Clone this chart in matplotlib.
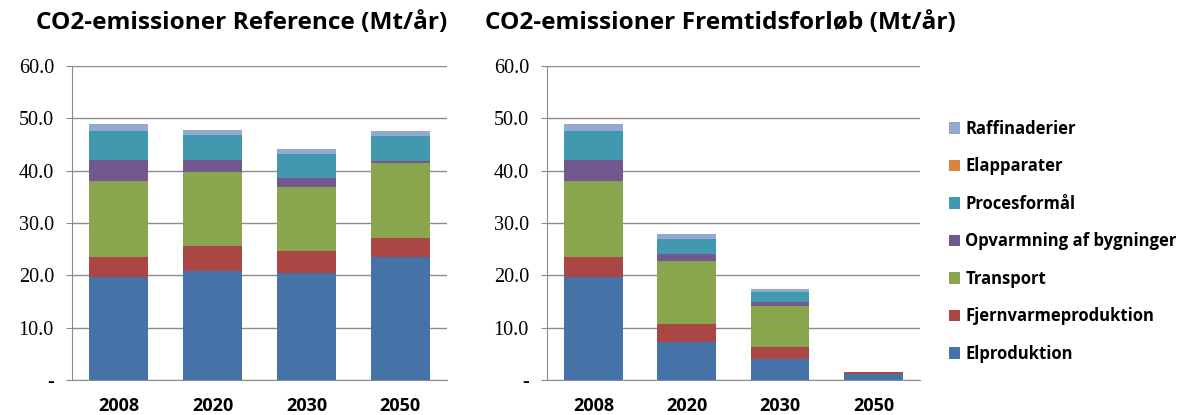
import matplotlib.pyplot as plt
import numpy as np

years = ['2008', '2020', '2030', '2050']
series = ['Elproduktion', 'Fjernvarmeproduktion', 'Transport',
          'Opvarmning af bygninger', 'Procesformål', 'Elapparater', 'Raffinaderier']
colors = ['#4572A7', '#AA4643', '#89A54E', '#71588F', '#4198AF', '#DB843D', '#93A9CF']

# Mt/år
ref_el = [19.7, 20.8, 20.4, 23.5]
ref_fj = [3.8, 4.8, 4.2, 3.7]
ref_tr = [14.6, 14.2, 12.3, 14.3]
ref_opv = [4.0, 2.3, 1.7, 0.4]
ref_proc = [5.4, 4.6, 4.6, 4.7]
ref_elapp = [0.0, 0.0, 0.0, 0.0]
ref_raff = [1.4, 1.1, 1.0, 0.9]

frem_el = [19.7, 7.3, 4.1, 1.2]
frem_fj = [3.8, 3.4, 2.2, 0.3]
frem_tr = [14.6, 12.0, 7.9, 0.0]
frem_opv = [4.0, 1.4, 0.7, 0.0]
frem_proc = [5.4, 2.9, 2.0, 0.0]
frem_elapp = [0.0, 0.0, 0.0, 0.0]
frem_raff = [1.4, 0.9, 0.4, 0.0]

ref = [ref_el, ref_fj, ref_tr, ref_opv, ref_proc, ref_elapp, ref_raff]
frem = [frem_el, frem_fj, frem_tr, frem_opv, frem_proc, frem_elapp, frem_raff]

fig = plt.figure(figsize=(11.88, 4.15), dpi=100)
ax1 = fig.add_axes([0.0606, 0.0843, 0.3157, 0.757])
ax2 = fig.add_axes([0.4604, 0.0843, 0.314, 0.757])


def stacked(ax, data, title, title_x):
    x = np.arange(len(years))
    bottom = np.zeros(len(years))
    handles = []
    for vals, c, name in zip(data, colors, series):
        h = ax.bar(x, vals, 0.63, bottom=bottom, color=c, label=name, zorder=3)
        handles.append(h)
        bottom += np.array(vals)
    ax.set_xlim(-0.5, len(years) - 0.5)
    ax.set_ylim(0, 60)
    ax.set_yticks(np.arange(0, 61, 10))
    ax.set_yticklabels(['-'] + ['%.1f' % v for v in range(10, 61, 10)],
                       family='Liberation Serif', fontsize=14.5)
    ax.set_xticks(x)
    ax.set_xticklabels(years, fontsize=13, fontweight='bold', family='Open Sans')
    ax.grid(axis='y', color='#8c8c8c', linewidth=1.0, zorder=0)
    for s in ['top', 'right']:
        ax.spines[s].set_visible(False)
    for s in ['left', 'bottom']:
        ax.spines[s].set_color('#8c8c8c')
    ax.tick_params(axis='y', length=4, color='#8c8c8c', pad=9)
    ax.tick_params(axis='x', length=0, pad=12)
    fig.text(title_x, 0.945, title, fontsize=17.6, fontweight='bold', family='Open Sans',
             ha='left', va='center')
    return handles


handles = stacked(ax1, ref, 'CO2-emissioner Reference (Mt/år)', 0.03)
stacked(ax2, frem, 'CO2-emissioner Fremtidsforløb (Mt/år)', 0.408)

leg = fig.legend(handles[::-1], series[::-1], loc='upper left',
                 bbox_to_anchor=(0.786, 0.747), frameon=False,
                 prop={'family': 'Open Sans', 'weight': 'bold', 'size': 12},
                 handlelength=0.7, handleheight=0.7, handletextpad=0.3,
                 labelspacing=1.17)

fig.savefig('out.png', dpi=100)
